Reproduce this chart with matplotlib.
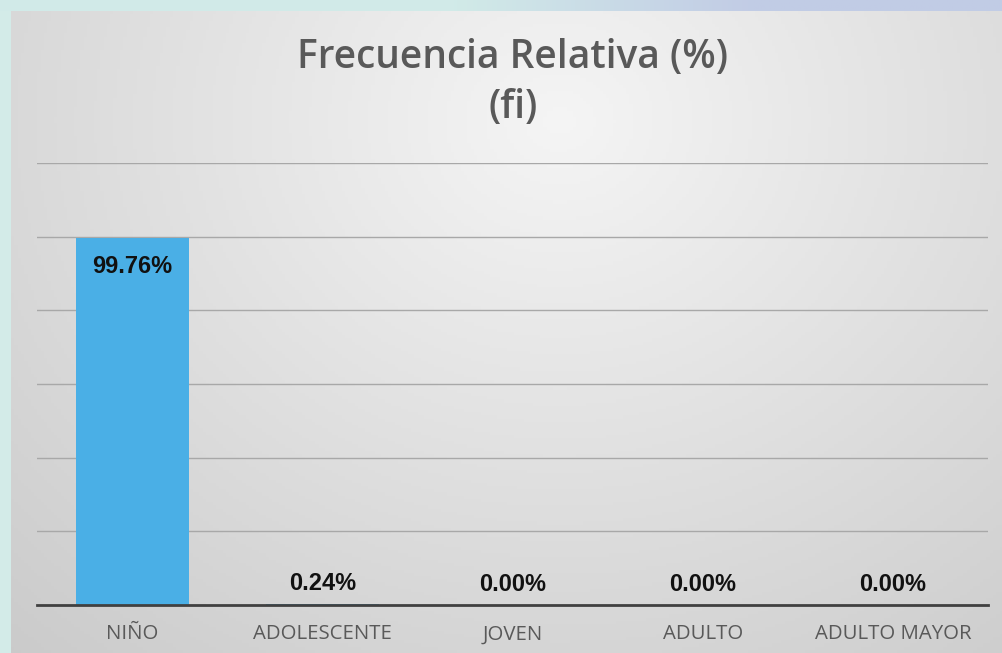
import numpy as np
import matplotlib
matplotlib.use("Agg")
import matplotlib.pyplot as plt

categories = ["NIÑO", "ADOLESCENTE", "JOVEN", "ADULTO", "ADULTO MAYOR"]
values = [99.76, 0.24, 0.00, 0.00, 0.00]
labels = ["99.76%", "0.24%", "0.00%", "0.00%", "0.00%"]
title_line1 = "Frecuencia Relativa (%)"
title_line2 = "(fi)"

W, H = 1003, 653
fig = plt.figure(figsize=(W / 100, H / 100), dpi=100)
fig.patch.set_facecolor("#d3ebe8")

# top strip (watermark-like)
strip = fig.add_axes([0, 1 - 11 / H, 1, 11 / H])
sx = np.linspace(0, 1, 400)
c_left = np.array([0.82, 0.92, 0.91])
c_right = np.array([0.76, 0.80, 0.90])
t = np.clip((sx - 0.45) / 0.3, 0, 1)[:, None]
row = c_left * (1 - t) + c_right * t
strip.imshow(row[None, :, :], aspect="auto", extent=[0, 1, 0, 1])
strip.axis("off")

# chart panel with radial gradient
panel = fig.add_axes([11 / W, 0, 1 - 11 / W, 1 - 11 / H])
gx, gy = np.meshgrid(np.linspace(11, W, 300), np.linspace(11, H, 200))
d = np.sqrt(((gx - 560) / 750) ** 2 + ((gy - 120) / 650) ** 2)
v = 0.96 - 0.15 * np.clip(d, 0, 1.2)
img = np.dstack([v, v, v])
panel.imshow(img, aspect="auto", extent=[0, 1, 0, 1], origin="upper")
panel.axis("off")

# main axes
left, right, top, bottom = 37, 988, 163, 605
ax = fig.add_axes([left / W, 1 - bottom / H, (right - left) / W, (bottom - top) / H])
ax.patch.set_alpha(0)
x = np.arange(len(categories))
bars = ax.bar(x, values, width=0.595, color="#4aafe6", zorder=2)
ax.set_xlim(-0.5, len(categories) - 0.5)
ax.set_ylim(0, 120)
ax.set_yticks([20, 40, 60, 80, 100, 120])
ax.yaxis.grid(True, color="#a8a8a8", linewidth=1.0, zorder=0)
ax.set_axisbelow(True)
ax.tick_params(axis="y", left=False, labelleft=False)
for s in ["left", "right", "top"]:
    ax.spines[s].set_visible(False)
ax.spines["bottom"].set_color("#404040")
ax.spines["bottom"].set_linewidth(2.0)
ax.spines["bottom"].set_zorder(3)
ax.set_xticks(x)
ax.set_xticklabels(categories, fontfamily="Open Sans", fontsize=14.7, color="#595959")
ax.tick_params(axis="x", length=0, pad=14)

for xi, val, lab in zip(x, values, labels):
    off = -21 if val > 50 else 15
    ax.annotate(lab, (xi, val), xytext=(0, off), textcoords="offset points",
                ha="center", va="center", fontfamily="Liberation Sans",
                fontweight="bold", fontsize=17, color="#111111", zorder=4)

fig.text(513 / W, 1 - 58 / H, title_line1, ha="center", va="center",
         fontfamily="Open Sans", fontweight="semibold", fontsize=28, color="#595959")
fig.text(513 / W, 1 - 108 / H, title_line2, ha="center", va="center",
         fontfamily="Open Sans", fontweight="semibold", fontsize=28, color="#595959")

fig.savefig("out.png", dpi=100)
